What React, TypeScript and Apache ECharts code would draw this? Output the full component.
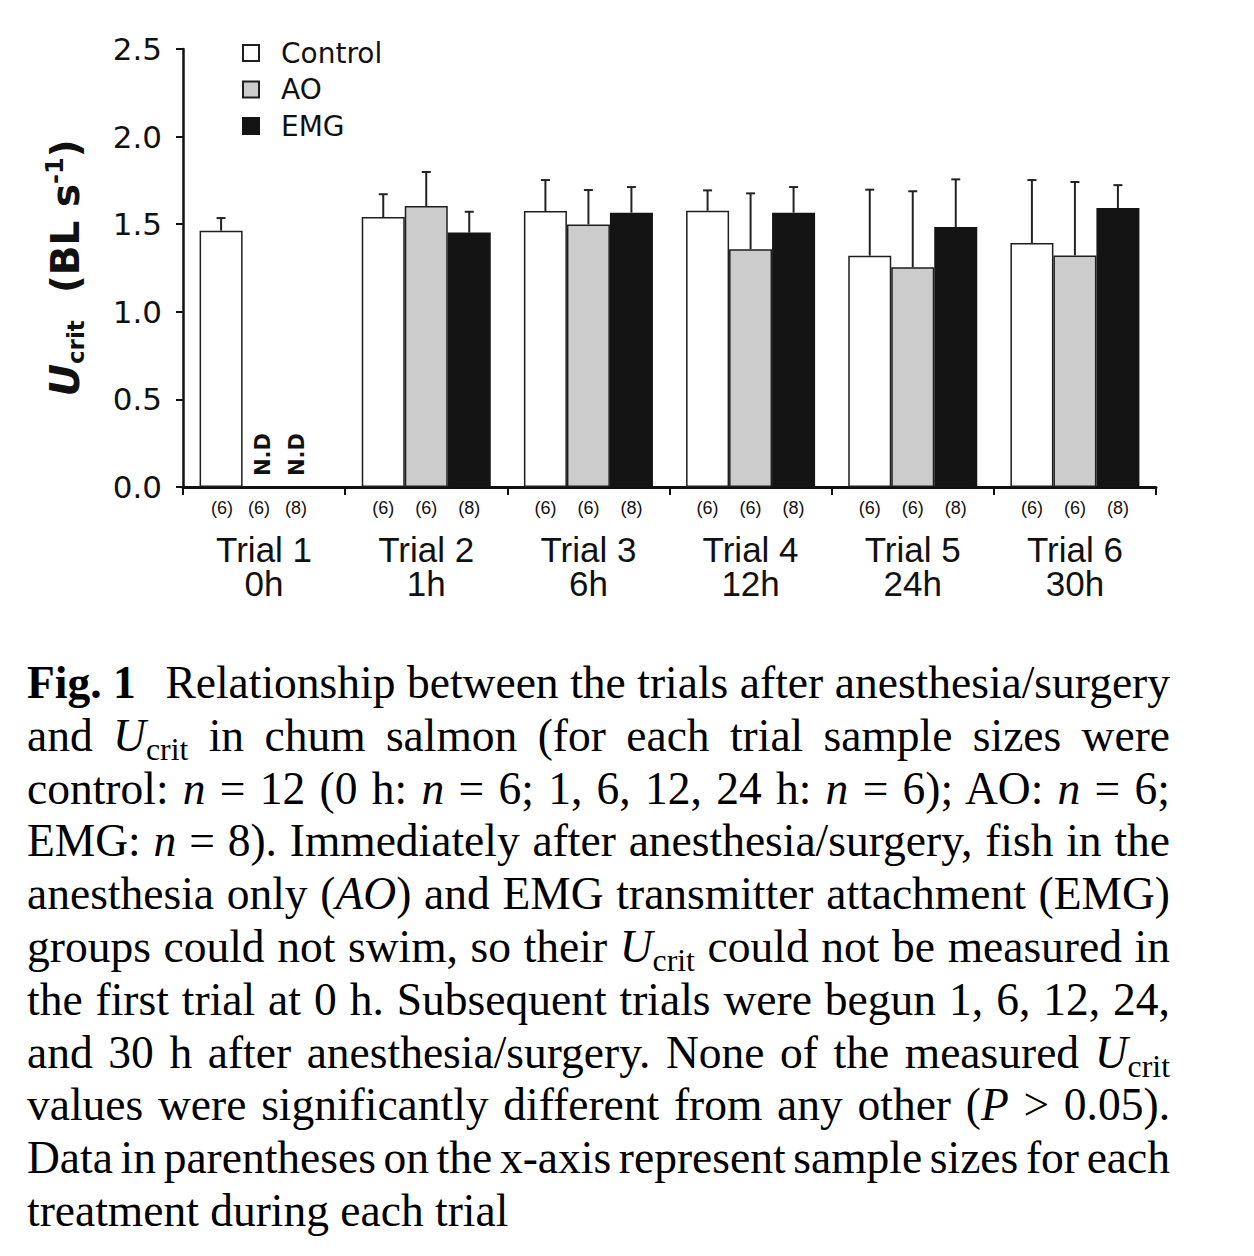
import React, { useEffect, useRef } from "react";
import * as echarts from "echarts";

// ---------- data ----------
const trialLabels = ["Trial 1", "Trial 2", "Trial 3", "Trial 4", "Trial 5", "Trial 6"];
const trialHours = ["0h", "1h", "6h", "12h", "24h", "30h"];
const groupNames = ["Control", "AO", "EMG"];
const sampleControl = [6, 6, 6, 6, 6, 6];
const sampleAO = [6, 6, 6, 6, 6, 6];
const sampleEMG = [8, 8, 8, 8, 8, 8];

const controlMean = [1.463, 1.541, 1.575, 1.577, 1.32, 1.393];
const controlErr = [0.072, 0.13, 0.177, 0.116, 0.377, 0.359];
const aoMean = [null, 1.604, 1.499, 1.357, 1.254, 1.322];
const aoErr = [null, 0.194, 0.196, 0.319, 0.434, 0.419];
const emgMean = [null, 1.452, 1.566, 1.566, 1.484, 1.592];
const emgErr = [null, 0.119, 0.146, 0.146, 0.272, 0.131];
const notDetermined = "N.D";

const yMin = 0;
const yMax = 2.5;
const yStep = 0.5;

// ---------- style ----------
const SANS = '"DejaVu Sans", Verdana, sans-serif';
const ARIAL = '"Liberation Sans", Arial, Helvetica, sans-serif';
const NARROW = '"Liberation Sans Narrow", "Liberation Sans", Arial, sans-serif';
const SERIF = '"Liberation Serif", "Times New Roman", Times, serif';
const INK = "#111111";
const BAR_W = 43;
const CHART_H = 630;

function buildOption(): any {
  const meanSets = [controlMean, aoMean, emgMean];
  const errSets = [controlErr, aoErr, emgErr];
  const fills = ["#ffffff", "#cccccc", "#141414"];
  const borders = ["#1e1e1e", "#1e1e1e", "#141414"];
  const ndPos: any[] = [null, [20, -11], [11.5, -11]];

  const barSeries = groupNames.map((name, g) => ({
    name,
    type: "bar",
    barWidth: BAR_W,
    barGap: "0%",
    z: 2,
    itemStyle: { color: fills[g], borderColor: borders[g], borderWidth: 1.5 },
    emphasis: { disabled: true },
    data: meanSets[g].map((v) =>
      v == null
        ? {
            value: 0,
            itemStyle: { borderWidth: 0 },
            label: {
              show: true,
              formatter: notDetermined,
              position: ndPos[g],
              rotate: 90,
              align: "left",
              verticalAlign: "middle",
              fontFamily: SANS,
              fontWeight: "bold",
              fontSize: 21,
              color: INK,
            },
          }
        : v
    ),
  }));

  const errSeries = groupNames.map((name, g) => ({
    type: "custom",
    z: 3,
    silent: true,
    encode: { x: 0, y: [1, 2] },
    data: meanSets[g]
      .map((m, i) => (m == null ? null : [i, m, m + (errSets[g][i] as number)]))
      .filter((d) => d != null),
    renderItem: (params: any, api: any) => {
      const c = api.value(0);
      const p0 = api.coord([c, api.value(1)]);
      const p1 = api.coord([c, api.value(2)]);
      const x = p0[0] + (g - 1) * BAR_W;
      const st = { stroke: "#222222", lineWidth: 2 };
      return {
        type: "group",
        children: [
          { type: "line", shape: { x1: x, y1: p0[1], x2: x, y2: p1[1] }, style: st },
          { type: "line", shape: { x1: x - 4.5, y1: p1[1], x2: x + 4.5, y2: p1[1] }, style: st },
        ],
      };
    },
  }));

  const sizes = [sampleControl, sampleAO, sampleEMG];

  return {
    animation: false,
    backgroundColor: "#ffffff",
    grid: { left: 183, right: 98, top: 49, bottom: CHART_H - 487, containLabel: false },
    legend: {
      data: groupNames,
      orient: "vertical",
      left: 242,
      top: 39,
      padding: 0,
      itemWidth: 16,
      itemHeight: 16,
      itemGap: 8.5,
      icon: "rect",
      selectedMode: false,
      textStyle: {
        fontFamily: SANS,
        fontSize: 28,
        color: INK,
        lineHeight: 16,
        padding: [0, 0, 0, 17],
      },
    },
    xAxis: {
      type: "category",
      data: trialLabels,
      axisLine: { show: true, lineStyle: { color: INK, width: 3 } },
      axisTick: { show: true, length: 8, lineStyle: { color: INK, width: 2 } },
      axisLabel: {
        interval: 0,
        margin: 10,
        color: INK,
        fontSize: 10,
        lineHeight: 13,
        formatter: (value: string, index: number) => {
          const first = index === 0;
          const n = sizes
            .map((s, g) => {
              const key = first ? (g === 2 ? "m3" : "m") : "n";
              return `{${key}|(${s[index]})}`;
            })
            .join("");
          return `${n}\n{sp| }\n{t|${trialLabels[index]}}\n{h|${trialHours[index]}}`;
        },
        rich: {
          n: { fontFamily: NARROW, fontSize: 18, color: INK, width: BAR_W, align: "center", lineHeight: 22 },
          m: { fontFamily: NARROW, fontSize: 18, color: INK, width: 37, align: "center", lineHeight: 22 },
          m3: { fontFamily: NARROW, fontSize: 18, color: INK, width: 37, align: "center", lineHeight: 22, padding: [0, 10, 0, 0] },
          sp: { fontSize: 8, lineHeight: 13 },
          t: { fontFamily: ARIAL, fontSize: 35, color: INK, lineHeight: 34 },
          h: { fontFamily: ARIAL, fontSize: 35, color: INK, lineHeight: 34 },
        },
      },
    },
    yAxis: {
      type: "value",
      min: yMin,
      max: yMax,
      interval: yStep,
      axisLine: { show: true, lineStyle: { color: INK, width: 2.5 } },
      axisTick: { show: true, length: 7, lineStyle: { color: INK, width: 2 } },
      splitLine: { show: false },
      axisLabel: {
        margin: 21,
        fontFamily: SANS,
        fontSize: 31,
        color: INK,
        formatter: (v: number) => v.toFixed(1),
      },
      name: "{u|U}{c|crit}{n|  (BL s}{s|-1}{n|)}",
      nameLocation: "middle",
      nameRotate: 90,
      nameGap: 96,
      nameTextStyle: {
        rich: {
          u: { fontFamily: SANS, fontSize: 40, fontWeight: "bold", fontStyle: "italic", color: INK, lineHeight: 44 },
          c: { fontFamily: SANS, fontSize: 23, fontWeight: "bold", color: INK, lineHeight: 32, verticalAlign: "bottom" },
          n: { fontFamily: SANS, fontSize: 39, fontWeight: "bold", color: INK, lineHeight: 44 },
          s: { fontFamily: SANS, fontSize: 24, fontWeight: "bold", color: INK, lineHeight: 24, verticalAlign: "top" },
        },
      },
    },
    series: [...barSeries, ...errSeries],
  };
}

const Ucrit = () => (
  <>
    <i>U</i>
    <sub style={{ fontSize: "0.7em", verticalAlign: "-0.28em", lineHeight: 0 }}>crit</sub>
  </>
);
const N = () => <i>n</i>;

const captionLines: React.ReactNode[] = [
  <>
    <b style={{ marginRight: 18 }}>Fig. 1</b> Relationship between the trials after anesthesia/surgery
  </>,
  <>
    and <Ucrit /> in chum salmon (for each trial sample sizes were
  </>,
  <>
    control: <N /> = 12 (0 h: <N /> = 6; 1, 6, 12, 24 h: <N /> = 6); AO: <N /> = 6;
  </>,
  <>
    EMG: <N /> = 8). Immediately after anesthesia/surgery, fish in the
  </>,
  <>
    anesthesia only (<i>AO</i>) and EMG transmitter attachment (EMG)
  </>,
  <>
    groups could not swim, so their <Ucrit /> could not be measured in
  </>,
  <>the first trial at 0 h. Subsequent trials were begun 1, 6, 12, 24,</>,
  <>
    and 30 h after anesthesia/surgery. None of the measured <Ucrit />
  </>,
  <>
    values were significantly different from any other (<i>P</i> &gt; 0.05).
  </>,
  <>Data in parentheses on the x-axis represent sample sizes for each</>,
  <>treatment during each trial</>,
];

function Caption() {
  return (
    <div
      style={{
        position: "absolute",
        left: 27,
        top: 657,
        width: 1143,
        fontFamily: SERIF,
        fontSize: 45.5,
        lineHeight: "52.8px",
        color: "#000",
      }}
    >
      {captionLines.map((ln, i) => {
        const last = i === captionLines.length - 1;
        return (
          <div
            key={i}
            style={{
              textAlign: last ? "left" : "justify",
              textAlignLast: last ? "left" : "justify",
              wordSpacing: last ? 0 : "-5px",
              height: "52.8px",
            } as any}
          >
            {ln}
          </div>
        );
      })}
    </div>
  );
}

export default function App() {
  const ref = useRef<HTMLDivElement>(null);
  useEffect(() => {
    if (!ref.current) return;
    const chart = echarts.init(ref.current, null, { renderer: "svg" });
    chart.setOption(buildOption());
    return () => chart.dispose();
  }, []);
  return (
    <div style={{ position: "absolute", left: 0, top: 0, width: 1254, height: 1256, background: "#fff" }}>
      <div ref={ref} style={{ position: "absolute", left: 0, top: 0, width: 1254, height: CHART_H }} />
      <Caption />
    </div>
  );
}
